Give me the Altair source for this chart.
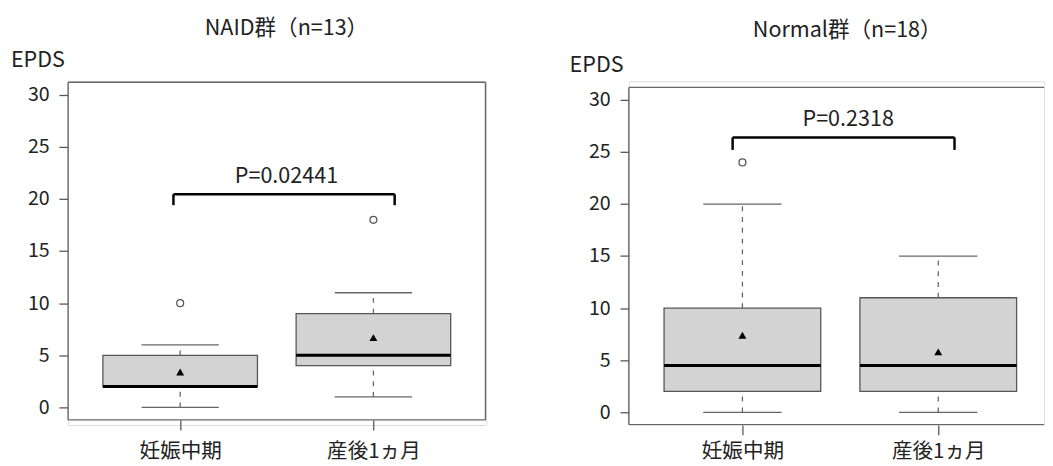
import altair as alt
import pandas as pd

FONT = "Noto Sans CJK JP"

categories = ["妊娠中期", "産後1ヵ月"]
positions = [1, 2]
y_ticks = [0, 5, 10, 15, 20, 25, 30]
frame_x = [0.42, 2.58]     # plot region limits (R usr)
frame_y = [-1.2, 31.2]

# NAID group
naid_title = "NAID群（n=13）"
naid_title_xy = [1.55, 36.36]
naid_min = [0, 1]
naid_q1 = [2, 4]
naid_median = [2, 5]
naid_q3 = [5, 9]
naid_max = [6, 11]
naid_mean = [3.4, 6.7]
naid_outlier_pos = [1, 2]
naid_outlier_val = [10, 18]
naid_bracket_x = [0.965, 2.11]
naid_bracket_y = [20.45, 19.4]
naid_p_label = "P=0.02441"
naid_p_xy = [1.55, 22.2]

# Normal group
normal_title = "Normal群（n=18）"
normal_title_xy = [1.535, 36.74]
normal_min = [0, 0]
normal_q1 = [2, 2]
normal_median = [4.5, 4.5]
normal_q3 = [10, 11]
normal_max = [20, 15]
normal_mean = [7.4, 5.8]
normal_outlier_pos = [1]
normal_outlier_val = [24]
normal_bracket_x = [0.95, 2.083]
normal_bracket_y = [26.4, 25.2]
normal_p_label = "P=0.2318"
normal_p_xy = [1.54, 28.2]


def panel(title, txy, mins, q1s, meds, q3s, maxs, means, opos, oval, bx, by, plabel, pxy,
          width, height, xdom, ydom, epds_x, epds_y,
          xaxis_offset, xlabel_pad, clip_frame):
    df = pd.DataFrame({"pos": positions, "cat": categories, "min": mins, "q1": q1s,
                       "median": meds, "q3": q3s, "max": maxs, "mean": means})
    out = pd.DataFrame({"pos": opos, "val": oval})
    br = pd.DataFrame({"x1": [bx[0]], "x2": [bx[1]], "ytop": [by[0]], "ybot": [by[1]]})
    txt = pd.DataFrame({"tx": [pxy[0], txy[0]], "ty": [pxy[1], txy[1]],
                        "label": [plabel, title]})
    fr = pd.DataFrame({"fx1": [frame_x[0]], "fx2": [frame_x[1]],
                       "fy1": [frame_y[0]], "fy2": [frame_y[1]]})

    xs = alt.Scale(domain=xdom, nice=False, zero=False)
    ys = alt.Scale(domain=ydom, nice=False, zero=False)
    label_expr = "[" + ",".join("'%s'" % c for c in categories) + "][datum.value - 1]"
    x_axis = alt.Axis(values=positions, labelExpr=label_expr, title=None, domain=False,
                      grid=False, tickSize=10, tickColor="#555", tickWidth=1.3,
                      offset=xaxis_offset, labelPadding=xlabel_pad, labelFontSize=21,
                      labelColor="#222", labelFont=FONT)
    y_axis = alt.Axis(values=y_ticks, title="EPDS", titleAngle=0, titleAlign="left",
                      titleBaseline="middle", titleX=epds_x, titleY=epds_y,
                      titleFontSize=22, titleFontWeight="normal", titleColor="#222",
                      titleFont=FONT, domain=False, grid=False, tickSize=9,
                      tickColor="#555", tickWidth=1.3, labelPadding=10,
                      labelFontSize=20, labelColor="#222", labelFont=FONT)

    def X(f):
        return alt.X(f, scale=xs, axis=x_axis)

    def Y(f):
        return alt.Y(f, scale=ys, axis=y_axis)

    base = alt.Chart(df).transform_calculate(
        bl="datum.pos - 0.4", br="datum.pos + 0.4",
        cl="datum.pos - 0.2", cr="datum.pos + 0.2")

    fch = alt.Chart(fr)
    fstyle = dict(color="#666", strokeWidth=1.4)
    f_left = fch.mark_rule(**fstyle).encode(x=X("fx1:Q"), y=Y("fy1:Q"), y2="fy2:Q")
    f_top = fch.mark_rule(clip=clip_frame, **fstyle).encode(
        x=X("fx1:Q"), x2="fx2:Q", y=Y("fy2:Q"))
    f_bot = fch.mark_rule(clip=clip_frame, **fstyle).encode(
        x=X("fx1:Q"), x2="fx2:Q", y=Y("fy1:Q"))
    f_right = fch.mark_rule(clip=clip_frame, **fstyle).encode(
        x=X("fx2:Q"), y=Y("fy1:Q"), y2="fy2:Q")

    box = base.mark_rect(fill="#d3d3d3", stroke="#555", strokeWidth=1.3).encode(
        x=X("bl:Q"), x2="br:Q", y=Y("q1:Q"), y2="q3:Q")
    wlo = base.mark_rule(color="#666", strokeWidth=1.3, strokeDash=[5, 6]).encode(
        x=X("pos:Q"), y=Y("min:Q"), y2="q1:Q")
    whi = base.mark_rule(color="#666", strokeWidth=1.3, strokeDash=[5, 6]).encode(
        x=X("pos:Q"), y=Y("q3:Q"), y2="max:Q")
    caplo = base.mark_rule(color="#666", strokeWidth=1.3).encode(
        x=X("cl:Q"), x2="cr:Q", y=Y("min:Q"))
    caphi = base.mark_rule(color="#666", strokeWidth=1.3).encode(
        x=X("cl:Q"), x2="cr:Q", y=Y("max:Q"))
    med = base.mark_rule(color="black", strokeWidth=3).encode(
        x=X("bl:Q"), x2="br:Q", y=Y("median:Q"))
    mean = base.mark_point(shape="triangle-up", filled=True, color="black", size=65,
                           opacity=1).encode(x=X("pos:Q"), y=Y("mean:Q"))
    outl = alt.Chart(out).mark_point(shape="circle", filled=False, color="#555",
                                     strokeWidth=1.3, size=50, opacity=1).encode(
        x=X("pos:Q"), y=Y("val:Q"))
    bch = alt.Chart(br)
    bh = bch.mark_rule(color="black", strokeWidth=2.5).encode(
        x=X("x1:Q"), x2="x2:Q", y=Y("ytop:Q"))
    bv1 = bch.mark_rule(color="black", strokeWidth=2.5).encode(
        x=X("x1:Q"), y=Y("ybot:Q"), y2="ytop:Q")
    bv2 = bch.mark_rule(color="black", strokeWidth=2.5).encode(
        x=X("x2:Q"), y=Y("ybot:Q"), y2="ytop:Q")
    texts = alt.Chart(txt).mark_text(font=FONT, fontSize=22, color="#222",
                                     baseline="middle", align="center").encode(
        x=X("tx:Q"), y=Y("ty:Q"), text="label:N")

    return alt.layer(f_left, f_top, f_bot, f_right, box, wlo, whi, caplo, caphi, med,
                     mean, outl, bh, bv1, bv2, texts).properties(width=width, height=height)


left = panel(naid_title, naid_title_xy, naid_min, naid_q1, naid_median, naid_q3, naid_max,
             naid_mean, naid_outlier_pos, naid_outlier_val, naid_bracket_x, naid_bracket_y,
             naid_p_label, naid_p_xy, 427, 351, [0.418, 2.582], [-1.691, 31.287],
             -58.5, -22, -5, 11, False)
right = panel(normal_title, normal_title_xy, normal_min, normal_q1, normal_median, normal_q3,
              normal_max, normal_mean, normal_outlier_pos, normal_outlier_val,
              normal_bracket_x, normal_bracket_y, normal_p_label, normal_p_xy, 424, 351,
              [0.42, 2.54], [-1.223, 31.787], -61, -17, 0, 6, True)

chart = alt.hconcat(left, right, spacing=83).properties(
    padding={"left": 2, "top": 4, "right": 0, "bottom": 0}
).configure_view(strokeWidth=0, stroke="transparent").configure(font=FONT, background="white")

chart.save("out.html", embed_options={"renderer": "svg", "actions": False})
